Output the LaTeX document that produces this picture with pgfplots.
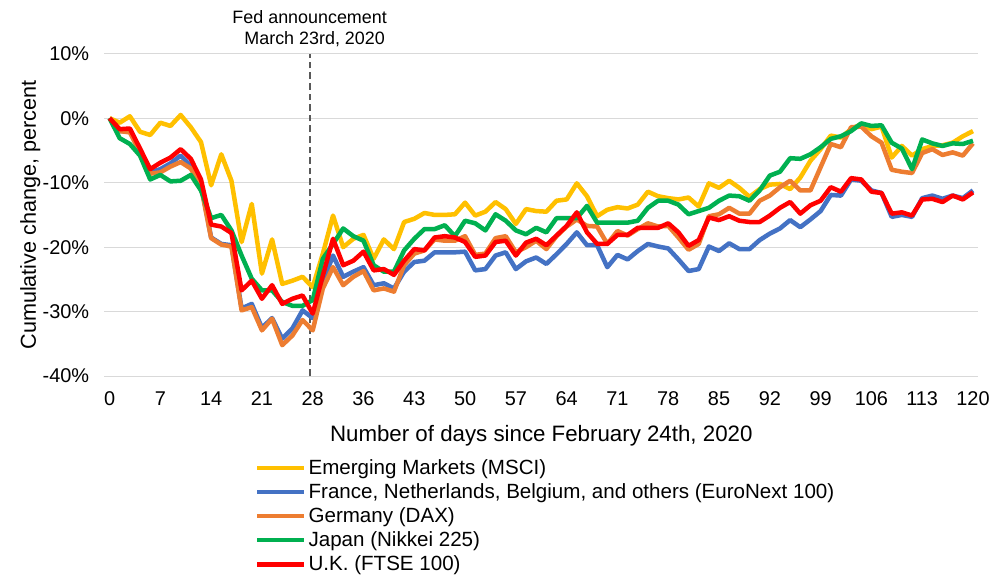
\documentclass[border=0pt]{standalone}
\usepackage{pgfplots}
\pgfplotsset{compat=1.18}
\usepackage{pgfplotstable}
\usepackage{fontspec}
\setmainfont{Liberation Sans}
\definecolor{cEM}{HTML}{FFC000}
\definecolor{cEU}{HTML}{4472C4}
\definecolor{cDE}{HTML}{ED7D31}
\definecolor{cJP}{HTML}{00B050}
\definecolor{cUK}{HTML}{FF0000}
\pgfplotstableread{
i EM EU DE JP UK
0 0 0 0 0 0
1 -0.7 -2.0 -2.0 -3.1 -1.7
2 0.3 -2.0 -2.2 -4.0 -1.6
3 -2.1 -5.0 -5.3 -5.8 -4.7
4 -2.6 -8.4 -8.6 -9.5 -7.9
5 -0.7 -7.9 -8.4 -8.8 -6.9
6 -1.2 -7.0 -7.5 -9.8 -6.1
7 0.5 -5.8 -6.8 -9.7 -4.8
8 -1.4 -7.4 -7.8 -8.8 -6.3
9 -3.7 -10.2 -10.6 -11.2 -9.5
10 -10.4 -18.5 -18.6 -15.5 -16.5
11 -5.6 -19.5 -19.6 -15.0 -16.8
12 -9.7 -19.7 -19.9 -17.4 -17.8
13 -19.2 -29.5 -29.8 -21.3 -26.7
14 -13.3 -28.8 -29.3 -24.9 -25.2
15 -24.1 -32.5 -32.9 -26.7 -28.0
16 -18.8 -31.0 -31.1 -26.7 -25.9
17 -25.7 -34.2 -35.2 -28.5 -28.8
18 -25.2 -32.6 -33.7 -29.1 -28.0
19 -24.6 -29.8 -31.3 -29.1 -27.5
20 -26.2 -31.0 -32.9 -28.2 -30.3
21 -21.0 -25.4 -26.4 -21.8 -24.4
22 -15.1 -21.3 -23.1 -19.5 -18.7
23 -20.0 -24.6 -25.9 -17.1 -22.8
24 -18.7 -23.8 -24.6 -18.3 -22.1
25 -18.1 -23.1 -23.7 -19.0 -20.7
26 -21.8 -25.9 -26.7 -22.8 -23.6
27 -18.8 -25.6 -26.4 -23.8 -23.4
28 -20.3 -26.4 -26.9 -23.8 -24.3
29 -16.1 -23.8 -22.8 -20.5 -22.1
30 -15.6 -22.3 -21.0 -18.7 -20.3
31 -14.7 -22.1 -20.5 -17.2 -20.5
32 -15.0 -20.8 -18.8 -17.2 -18.5
33 -15.0 -20.8 -19.0 -16.6 -18.3
34 -14.9 -20.8 -19.0 -18.3 -18.5
35 -13.1 -20.7 -18.3 -15.9 -19.2
36 -15.1 -23.6 -21.2 -16.3 -21.5
37 -14.5 -23.4 -21.0 -17.4 -21.3
38 -13.0 -21.3 -18.6 -14.9 -19.2
39 -14.1 -20.8 -18.3 -15.9 -19.0
40 -16.4 -23.4 -20.8 -17.4 -21.3
41 -14.1 -22.2 -20.0 -18.0 -19.3
42 -14.4 -21.6 -19.0 -17.0 -18.7
43 -14.5 -22.6 -20.3 -17.7 -19.7
44 -12.8 -21.1 -18.3 -15.5 -18.2
45 -12.6 -19.5 -16.8 -15.5 -16.7
46 -10.1 -17.7 -15.7 -15.5 -14.6
47 -12.1 -19.7 -16.7 -13.6 -17.7
48 -15.2 -19.7 -16.8 -16.2 -19.5
49 -14.2 -23.1 -19.5 -16.2 -19.5
50 -13.8 -21.2 -17.5 -16.2 -18.1
51 -14.0 -21.9 -18.2 -16.2 -18.1
52 -13.4 -20.6 -17.2 -15.9 -17.0
53 -11.4 -19.5 -16.3 -13.9 -17.0
54 -12.1 -19.9 -16.8 -12.8 -17.0
55 -12.4 -20.2 -16.7 -12.8 -16.3
56 -12.6 -21.9 -18.5 -13.4 -17.7
57 -12.3 -23.7 -20.4 -14.9 -19.8
58 -13.7 -23.4 -19.5 -14.4 -18.9
59 -10.1 -19.9 -15.2 -13.9 -15.4
60 -10.8 -20.6 -14.9 -12.8 -15.8
61 -9.7 -19.4 -13.9 -12.0 -15.2
62 -10.8 -20.3 -14.8 -12.1 -15.9
63 -12.2 -20.3 -14.8 -12.8 -16.1
64 -11.0 -18.9 -12.8 -11.2 -16.1
65 -10.3 -17.9 -12.0 -8.9 -15.1
66 -10.2 -17.1 -10.7 -8.3 -13.9
67 -11.0 -15.8 -9.7 -6.2 -13.0
68 -9.2 -16.9 -11.2 -6.3 -14.8
69 -6.6 -15.7 -11.2 -5.6 -13.5
70 -4.8 -14.4 -7.6 -4.5 -12.8
71 -2.7 -11.9 -4.0 -3.2 -10.7
72 -3.0 -12.0 -4.5 -2.8 -11.4
73 -1.7 -9.5 -1.4 -2.0 -9.3
74 -0.9 -9.7 -1.3 -0.8 -9.5
75 -1.7 -11.2 -2.8 -1.2 -11.4
76 -1.3 -11.6 -3.8 -1.1 -11.6
77 -6.1 -15.3 -8.0 -3.8 -14.8
78 -4.3 -15.0 -8.3 -4.7 -14.6
79 -5.8 -15.3 -8.5 -7.9 -15.1
80 -4.8 -12.4 -5.4 -3.3 -12.6
81 -4.3 -12.0 -4.8 -3.9 -12.5
82 -4.2 -12.5 -5.7 -4.3 -13.0
83 -3.8 -12.0 -5.3 -3.9 -12.0
84 -2.8 -12.4 -5.8 -4.0 -12.6
85 -2.0 -11.2 -3.9 -3.5 -11.5
}\data
\begin{document}
\begin{tikzpicture}
\begin{axis}[
  at={(0,0)}, anchor=south west,
  scale only axis, width=658.5pt, height=243pt,
  xmin=-0.5, xmax=85.5, ymin=-40, ymax=10,
  axis line style={draw=none},
  major tick length=0pt,
  xtick={0,5,...,85},
  xticklabels={0,7,14,21,28,36,43,50,57,64,71,78,85,92,99,106,113,120},
  ytick={-40,-30,...,10},
  yticklabel={\pgfmathprintnumber{\tick}\%},
  /pgf/number format/assume math mode=true,
  ymajorgrids, grid style={color=black!15, line width=0.9pt},
  tick label style={font=\fontsize{15}{18}\selectfont},
  xticklabel style={yshift=-8pt},
  yticklabel style={xshift=-8pt},
  xlabel={Number of days since February 24th, 2020},
  ylabel={Cumulative change, percent},
  xlabel style={font=\fontsize{16.8}{19}\selectfont, yshift=-8pt},
  ylabel style={font=\fontsize{16.3}{19}\selectfont, yshift=-5pt},
  clip=false,
  legend cell align=left,
  legend style={at={(0.172,-0.25)}, anchor=north west, draw=none, fill=none,
    font=\fontsize{15.5}{18}\selectfont, row sep=1.4pt, inner sep=0pt},
  legend image code/.code={\draw[#1, line width=3.3pt] (0pt,0pt) -- (30pt,0pt); \path (0pt,0pt) -- (35pt,0pt);},
  every axis plot/.append style={line width=3.4pt, line join=round},
]
\addplot[color=black!65, dash pattern=on 5pt off 3pt, line width=1.5pt, forget plot] coordinates {(19.7,-40) (19.7,10)};
\addplot[cEM] table[x=i, y=EM] {\data};
\addplot[cEU] table[x=i, y=EU] {\data};
\addplot[cDE] table[x=i, y=DE] {\data};
\addplot[cJP] table[x=i, y=JP] {\data};
\addplot[cUK] table[x=i, y=UK] {\data};
\legend{Emerging Markets (MSCI),{France, Netherlands, Belgium, and others (EuroNext 100)},Germany (DAX),Japan (Nikkei 225),U.K. (FTSE 100)}
\node[anchor=south, align=center, font=\fontsize{13.5}{15.5}\selectfont, inner sep=0pt] at (axis cs:19.7,10) [yshift=5pt] {Fed announcement\\\ \ March 23rd, 2020};
\end{axis}
\path[use as bounding box] (-78.75pt,-148.5pt) rectangle (666.75pt,283.5pt);
\end{tikzpicture}
\end{document}
